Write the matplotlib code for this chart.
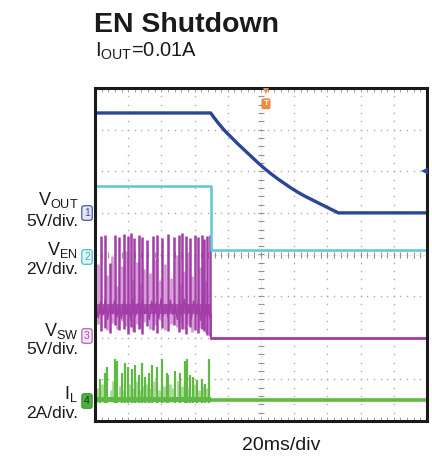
import numpy as np
import matplotlib
matplotlib.use("Agg")
import matplotlib.pyplot as plt

plt.rcParams['font.family'] = ['Liberation Sans', 'DejaVu Sans']
plt.rcParams['mathtext.fontset'] = 'custom'
plt.rcParams['mathtext.rm'] = 'Liberation Sans'
plt.rcParams['mathtext.it'] = 'Liberation Sans'

# ---- scope settings -------------------------------------------------------
MS_PER_DIV = 20
VOUT_SCALE, VOUT_OFS = 5.0, 1.0     # V/div, ground position in div
VEN_SCALE, VEN_OFS = 2.0, 0.0
VSW_SCALE, VSW_OFS = 5.0, -2.0
IL_SCALE, IL_OFS = 2.0, -3.5
T_EN_LOW = -30.3                    # ms, EN pulled low

# ---- VOUT (V) -------------------------------------------------------------
vout_t = [-100, -30.3, -28.5, -26, -22, -18, -14, -10, -6, -2, 2, 6, 10, 14,
          18, 22, 26, 30, 34, 38, 42, 46.6, 100]
vout_v = [12.0, 12.0, 11.5, 10.85, 9.9, 9.1, 8.3, 7.55, 6.8, 6.05, 5.35, 4.7, 4.1, 3.55,
          3.0, 2.5, 2.05, 1.65, 1.25, 0.85, 0.45, 0.0, 0.0]

# ---- VEN (V) --------------------------------------------------------------
ven_t = [-100, -30.3, -30.3, 100]
ven_v = [3.3, 3.3, 0.2, 0.2]

# ---- VSW burst (V) --------------------------------------------------------
vsw_spike_t = [-96.4, -94.0, -91.0, -88.0, -85.5, -82.5, -80.0, -78.3, -76.5, -73.5,
               -71.7, -68.7, -65.0, -62.7, -59.6, -56.0, -52.4, -49.4, -47.6, -45.2,
               -42.8, -39.8, -38.0, -35.5, -34.3, -32.5, -30.7]
vsw_spike_v = [12.2, 12.4, 9.0, 12.3, 12.1, 12.5, 12.2, 12.6, 12.0, 12.3,
               12.1, 11.8, 12.2, 12.4, 12.0, 12.5, 12.1, 12.3, 12.6, 12.2,
               12.0, 12.4, 12.1, 12.3, 11.9, 12.2, 12.4]
vsw_dip_v = [0.8, 1.2, 0.6, 1.5, 0.9, 1.1, 0.4, 1.3, 0.7, 1.0,
             0.5, 1.4, 0.9, 0.6, 1.2, 0.8, 1.5, 0.7, 1.0, 0.5,
             1.3, 0.9, 0.6, 1.1, 0.8, 0.3, 0.2]
vsw_ring_t = [-98.0, -93.0, -90.0, -86.8, -84.0, -81.2, -77.4, -75.0, -72.6, -70.2,
              -67.0, -63.8, -61.0, -58.0, -54.2, -50.9, -48.5, -46.4, -44.0, -41.3,
              -36.8, -33.4]
vsw_ring_v = [8.8, 7.5, 9.8, 6.2, 8.6, 10.4, 7.0, 9.1, 6.6, 8.2,
              7.8, 9.5, 6.9, 8.8, 7.2, 9.9, 6.4, 8.0, 10.2, 7.4,
              8.5, 6.8]
vsw_ring_lo = [1.6, 0.9, 1.8, 1.1, 2.0, 1.4, 0.8, 1.7, 1.2, 1.9,
               1.0, 1.5, 2.1, 0.9, 1.6, 1.3, 1.8, 1.1, 1.5, 0.7,
               1.2, 0.6]
vsw_noise_t = [-99.4, -98.0, -96.6, -95.2, -93.8, -92.4, -91.0, -89.6, -88.2, -86.8,
               -85.4, -84.0, -82.6, -81.2, -79.8, -78.4, -77.0, -75.6, -74.2, -72.8,
               -71.4, -70.0, -68.6, -67.2, -65.8, -64.4, -63.0, -61.6, -60.2, -58.8,
               -57.4, -56.0, -54.6, -53.2, -51.8, -50.4, -49.0, -47.6, -46.2, -44.8,
               -43.4, -42.0, -40.6, -39.2, -37.8, -36.4, -35.0, -33.6, -32.2, -30.8]
vsw_noise_v = [3.4, 2.4, 4.3, 2.7, 4.6, 2.2, 4.0, 2.9, 4.5, 2.5,
               3.9, 2.3, 4.4, 2.8, 4.2, 2.1, 4.6, 2.6, 4.1, 2.4,
               4.5, 2.9, 3.8, 2.2, 4.4, 2.6, 4.2, 2.3, 4.7, 2.7,
               4.0, 2.4, 4.5, 2.8, 4.1, 2.2, 4.3, 2.6, 4.6, 2.5,
               3.9, 2.3, 4.4, 2.7, 4.2, 2.1, 4.5, 2.6, 4.0, 2.4]
vsw_band_lo, vsw_band_hi = 2.8, 4.0

# ---- IL burst (A) ---------------------------------------------------------
il_spike_t = [-97.0, -94.0, -92.8, -88.0, -86.7, -83.7, -81.9, -80.0, -77.7, -75.9,
              -73.5, -71.7, -69.9, -67.5, -65.7, -62.7, -59.6, -56.6, -56.0, -51.8,
              -48.8, -45.8, -44.6, -42.8, -41.0, -38.6, -35.5, -33.7, -31.3]
il_spike_a = [1.0, 1.3, 1.6, 2.0, 1.9, 1.3, 1.8, 1.6, 1.5, 1.7,
              1.2, 1.8, 1.1, 1.3, 1.7, 1.6, 2.0, 1.3, 1.2, 1.4,
              1.3, 1.9, 2.0, 1.2, 1.1, 0.95, 1.0, 0.8, 2.0]
il_small_t = [-98.5, -95.5, -90.5, -89.2, -85.0, -83.0, -79.0, -76.8, -74.6, -72.5,
              -70.8, -68.6, -66.5, -64.2, -61.2, -58.3, -55.0, -53.5, -50.3, -47.3,
              -43.6, -40.0, -37.2, -34.5, -32.4]
il_small_a = [0.6, 0.8, 0.5, 0.9, 0.7, 0.5, 0.8, 0.6, 0.9, 0.5,
              0.7, 0.8, 0.6, 0.9, 0.5, 0.7, 0.8, 0.6, 0.9, 0.7,
              0.6, 0.8, 0.5, 0.7, 0.6]

C_VOUT = '#2c4697'
C_VEN = '#5cc8d6'
C_VSW = '#a23ca6'
C_VSW_LIGHT = '#d49ad6'
C_IL = '#5fba43'
C_IL_LIGHT = '#a8dc94'

W, H = 432, 457
fig = plt.figure(figsize=(W / 100, H / 100), dpi=100)
L, R, T, B = 95, 427, 88, 421
ax = fig.add_axes([L / W, 1 - B / H, (R - L) / W, (B - T) / H])
ax.set_xlim(-5 * MS_PER_DIV, 5 * MS_PER_DIV)
ax.set_ylim(-4, 4)
ax.set_xticks([])
ax.set_yticks([])
for s in ax.spines.values():
    s.set_linewidth(2.2)
    s.set_color('#1a1a1a')
    s.set_zorder(10)

# ---- graticule ------------------------------------------------------------
grid_c = '#ababab'
xs_minor = np.arange(-100, 100.01, MS_PER_DIV / 5)
ys_minor = np.arange(-4, 4.01, 0.2)
for gy in range(-3, 4):
    if gy == 0:
        continue
    ax.plot(xs_minor, np.full_like(xs_minor, gy), ls='none', marker='s', ms=1.0,
            color=grid_c, mew=0, zorder=1)
for gx in range(-80, 81, MS_PER_DIV):
    if gx == 0:
        continue
    ax.plot(np.full_like(ys_minor, gx), ys_minor, ls='none', marker='s', ms=1.0,
            color=grid_c, mew=0, zorder=1)
# center cross with tick marks
ax.plot(xs_minor, np.zeros_like(xs_minor), ls='none', marker='|', ms=4, mew=0.8,
        color='#909090', zorder=1)
ax.plot(np.zeros_like(ys_minor), ys_minor, ls='none', marker='_', ms=4, mew=0.8,
        color='#909090', zorder=1)
ax.plot([-100, 100], [0, 0], color='#b5b5b5', lw=0.5, ls=(0, (1, 2)), zorder=1)
ax.plot([0, 0], [-4, 4], color='#b5b5b5', lw=0.5, ls=(0, (1, 2)), zorder=1)
# edge ticks
ax.plot(xs_minor, np.full_like(xs_minor, 3.95), ls='none', marker='|', ms=3, mew=0.7,
        color='#a0a0a0', zorder=1)
ax.plot(xs_minor, np.full_like(xs_minor, -3.95), ls='none', marker='|', ms=3, mew=0.7,
        color='#a0a0a0', zorder=1)

def vout_y(v):
    return VOUT_OFS + np.asarray(v) / VOUT_SCALE

def ven_y(v):
    return VEN_OFS + np.asarray(v) / VEN_SCALE

def vsw_y(v):
    return VSW_OFS + np.asarray(v) / VSW_SCALE

def il_y(a):
    return IL_OFS + np.asarray(a) / IL_SCALE

# ---- IL -------------------------------------------------------------------
ax.vlines(il_small_t, il_y(-0.1), il_y(il_small_a), color=C_IL_LIGHT, lw=2.0, zorder=3)
ax.vlines(il_spike_t, il_y(-0.15), il_y(il_spike_a), color=C_IL, lw=1.6, zorder=3)
ax.fill_between([-99.5, T_EN_LOW], il_y(-0.1), il_y(0.14), color=C_IL, lw=0,
                zorder=3)
ax.plot([T_EN_LOW, 100], il_y([0.0, 0.0]), color=C_IL, lw=2.6, zorder=3)

# ---- VSW ------------------------------------------------------------------
ax.vlines(vsw_ring_t, vsw_y(vsw_ring_lo), vsw_y(vsw_ring_v), color=C_VSW_LIGHT,
          lw=2.0, zorder=4)
ax.fill_between([-99.5, T_EN_LOW], vsw_y(vsw_band_lo), vsw_y(vsw_band_hi),
                color=C_VSW, lw=0, alpha=0.8, zorder=4)
ax.plot(vsw_noise_t, vsw_y(vsw_noise_v), color=C_VSW, lw=1.0, zorder=4)
ax.vlines(vsw_spike_t, vsw_y(vsw_dip_v), vsw_y(vsw_spike_v), color=C_VSW, lw=1.8,
          zorder=4)
ax.plot([T_EN_LOW, T_EN_LOW], vsw_y([vsw_band_lo, 0.0]), color=C_VSW, lw=1.2, zorder=4)
ax.plot([T_EN_LOW, 100], vsw_y([0.0, 0.0]), color=C_VSW, lw=2.0, zorder=4)

# ---- VEN ------------------------------------------------------------------
ax.plot(ven_t, ven_y(ven_v), color=C_VEN, lw=1.8, zorder=5)

# ---- VOUT -----------------------------------------------------------------
ax.plot(vout_t, vout_y(vout_v), color=C_VOUT, lw=2.4, zorder=6,
        solid_joinstyle='round')

# trigger position and level markers
ax.plot([3], [3.93], marker='v', ms=5, color='#f08a3c', mew=0, clip_on=False, zorder=11)
ax.text(3, 3.62, 'T', color='white', fontsize=6, fontweight='bold', ha='center',
        va='center', zorder=11,
        bbox=dict(boxstyle='round,pad=0.15', fc='#f08a3c', ec='#f08a3c'))
ax.plot([98.6], [2.0], marker='<', ms=6, color=C_VOUT, mew=0, zorder=11)

# ---- text -----------------------------------------------------------------
def fx(px):
    return px / W

def fy(py):
    return 1 - py / H

fig.text(fx(94), fy(32), 'EN Shutdown', fontsize=20.5, fontweight='bold',
         color='#1a1a1a', va='baseline')
fig.text(fx(95), fy(57), r'$\mathregular{I_{OUT}}$=0.01A', fontsize=14.5,
         color='#1a1a1a', va='baseline')
fig.text(fx(281), fy(450), '20ms/div', fontsize=14, color='#1a1a1a',
         ha='center', va='baseline')

labels = [
    (r'$\mathregular{V_{OUT}}$', '5V/div.', 205, 226),
    (r'$\mathregular{V_{EN}}$', '2V/div.', 255, 274),
    (r'$\mathregular{V_{SW}}$', '5V/div.', 336, 354),
    (r'$\mathregular{I_{L}}$', '2A/div.', 399, 418),
]
for name, scale, y1, y2 in labels:
    fig.text(fx(78), fy(y1), name, fontsize=13, ha='right', va='baseline',
             color='#1a1a1a')
    fig.text(fx(78), fy(y2), scale, fontsize=12.5, ha='right', va='baseline',
             color='#1a1a1a')

tags = [
    ('1', 213, '#4a5aa8', '#e3e6f5', '#3a4a9a'),
    ('2', 257, '#47c0cc', '#e2f6f8', '#38aab6'),
    ('3', 336, '#b466b8', '#f5e4f5', '#a050a6'),
    ('4', 401, '#3f9b3a', '#4fae45', '#123a12'),
]
for num, py, ec, fc, tc in tags:
    fig.text(fx(87), fy(py), num, fontsize=7.5, ha='center', va='center', color=tc,
             bbox=dict(boxstyle='round,pad=0.22', fc=fc, ec=ec, lw=0.9))

fig.savefig('out.png', dpi=100, facecolor='white')
